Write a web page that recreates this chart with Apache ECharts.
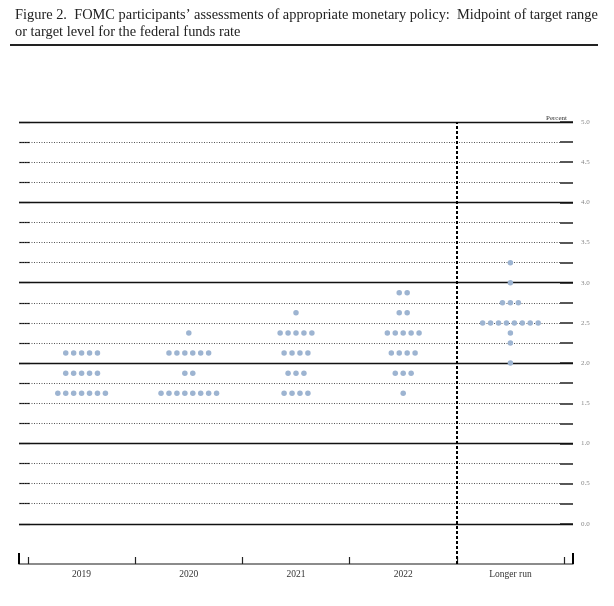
<!DOCTYPE html>
<html>
<head>
<meta charset="utf-8">
<script src="https://cdn.jsdelivr.net/npm/echarts@6/dist/echarts.min.js"></script>
<style>html,body{margin:0;padding:0;background:#fff;}#c{width:614px;height:606px;}</style>
</head>
<body>
<div id="c"></div>
<script>
// ---- data ----
const categories = ['2019', '2020', '2021', '2022', 'Longer run'];
const levels2019 = [2.125, 1.875, 1.625];
const counts2019 = [5, 5, 7];
const levels2020 = [2.375, 2.125, 1.875, 1.625];
const counts2020 = [1, 6, 2, 8];
const levels2021 = [2.625, 2.375, 2.125, 1.875, 1.625];
const counts2021 = [1, 5, 4, 3, 4];
const levels2022 = [2.875, 2.625, 2.375, 2.125, 1.875, 1.625];
const counts2022 = [2, 2, 5, 4, 3, 1];
const levelsLonger = [3.25, 3.0, 2.75, 2.5, 2.375, 2.25, 2.0];
const countsLonger = [1, 1, 3, 8, 1, 1, 1];
const yTicks = [0, 0.25, 0.5, 0.75, 1, 1.25, 1.5, 1.75, 2, 2.25, 2.5, 2.75, 3, 3.25, 3.5, 3.75, 4, 4.25, 4.5, 4.75, 5];
const yLabelValues = [0, 0.5, 1, 1.5, 2, 2.5, 3, 3.5, 4, 4.5, 5];
const solidLevels = [0, 1, 2, 3, 4, 5];
const categoryBoundaries = [-0.5, 0.5, 1.5, 2.5, 3.5, 4.5];
const longerRunDivider = 3.5;

// ---- layout constants ----
const xPad = 0.084;
const dotStep = 0.074;
const xMin = -0.5 - xPad, xMax = 4.5 + xPad;

const groups = [
  [levels2019, counts2019], [levels2020, counts2020], [levels2021, counts2021],
  [levels2022, counts2022], [levelsLonger, countsLonger]
];
const dots = [];
groups.forEach(function (g, ci) {
  g[0].forEach(function (lvl, k) {
    const n = g[1][k];
    for (let i = 0; i < n; i++) {
      dots.push([ci + (i - (n - 1) / 2) * dotStep, lvl]);
    }
  });
});

const lineData = yTicks.map(function (v) {
  const solid = solidLevels.indexOf(v) >= 0;
  return {
    yAxis: v,
    lineStyle: solid ? { type: 'solid', color: '#111', width: 1.3 }
                     : { type: [1, 1.5], color: '#555', width: 1 }
  };
});
lineData.push({ xAxis: longerRunDivider, lineStyle: { type: [3, 2], color: '#000', width: 2 } });

const serif = '"Liberation Serif", "DejaVu Serif", serif';
const chart = echarts.init(document.getElementById('c'), null, { renderer: 'canvas' });
chart.setOption({
  animation: false,
  backgroundColor: '#fff',
  title: [{
    text: 'Figure 2.  FOMC participants’ assessments of appropriate monetary policy:  Midpoint of target range\nor target level for the federal funds rate',
    left: 10, top: 2,
    textStyle: { fontFamily: serif, fontSize: 14.4, fontWeight: 'normal', color: '#222', lineHeight: 17 }
  }, {
    text: 'Percent',
    left: 541, top: 110,
    textStyle: { fontFamily: serif, fontSize: 7, fontWeight: 'normal', color: '#333' }
  }],
  graphic: [{
    type: 'line', shape: { x1: 10, y1: 45, x2: 598, y2: 45 },
    style: { stroke: '#222', lineWidth: 2 }
  }],
  grid: { left: 19, right: 41, top: 122, bottom: 42 },
  xAxis: [{
    type: 'value', min: xMin, max: xMax, position: 'bottom',
    axisLine: { show: true, onZero: false, lineStyle: { color: '#666', width: 1.5 } },
    axisTick: { show: true, inside: true, length: 11, customValues: [xMin, xMax], lineStyle: { color: '#000', width: 2 } },
    axisLabel: { show: false },
    splitLine: { show: false }
  }, {
    type: 'value', min: xMin, max: xMax, position: 'bottom',
    axisLine: { show: false, onZero: false },
    axisTick: { show: true, inside: true, length: 7, customValues: categoryBoundaries, lineStyle: { color: '#222', width: 1.2 } },
    axisLabel: {
      show: true, customValues: [0, 1, 2, 3, 4], margin: 5,
      formatter: function (v) { return categories[Math.round(v)]; },
      fontFamily: serif, fontSize: 9.5, color: '#333'
    },
    splitLine: { show: false }
  }],
  yAxis: [{
    type: 'value', min: -0.5, max: 5, position: 'left',
    axisLine: { show: false, onZero: false },
    axisTick: { show: true, inside: true, length: 11, customValues: yTicks, lineStyle: { color: '#111', width: 1.2 } },
    axisLabel: { show: false },
    splitLine: { show: false }
  }, {
    type: 'value', min: -0.5, max: 5, position: 'right',
    axisLine: { show: false, onZero: false },
    axisTick: { show: true, inside: true, length: 13, customValues: yTicks, lineStyle: { color: '#222', width: 1.5 } },
    axisLabel: {
      show: true, customValues: yLabelValues, margin: 8,
      formatter: function (v) { return v.toFixed(1); },
      fontFamily: serif, fontSize: 7, color: '#888'
    },
    splitLine: { show: false }
  }],
  series: [{
    type: 'scatter',
    xAxisIndex: 0, yAxisIndex: 0,
    data: dots,
    symbol: 'circle',
    symbolSize: 5.5,
    itemStyle: { color: '#9db4d1', opacity: 1 },
    z: 5,
    markLine: {
      silent: true, symbol: 'none', label: { show: false },
      animation: false,
      data: lineData,
      z: 1
    }
  }]
});
</script>
</body>
</html>
